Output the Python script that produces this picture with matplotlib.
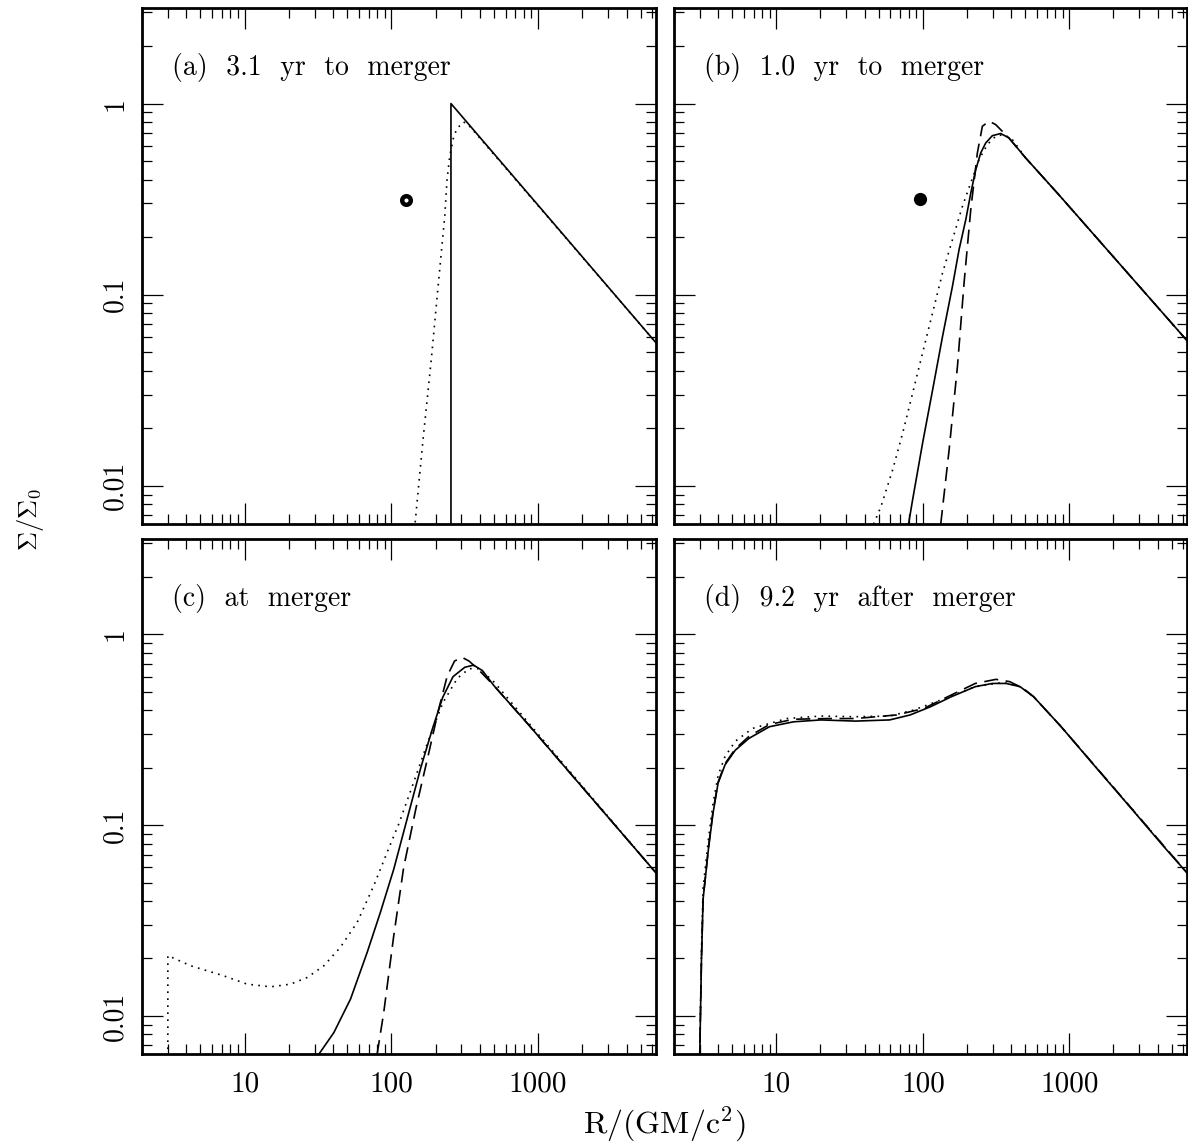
import matplotlib
matplotlib.use('Agg')
import matplotlib.pyplot as plt
from matplotlib.ticker import FixedLocator, FixedFormatter, LogLocator, NullFormatter

plt.rcParams['font.family'] = 'cmr10'
plt.rcParams['mathtext.fontset'] = 'cm'
plt.rcParams['axes.formatter.use_mathtext'] = True

# surface density profiles: R in GM/c^2, Sigma in units of Sigma_0
# solid / dotted / dashed = the three runs, one panel per epoch

# (a) 3.1 yr to merger
R_a_solid = [254.7, 254.7, 6353]
S_a_solid = [0.005, 1.0, 0.056]
R_a_dot = [141.0, 144.9, 164.4, 187.5, 208.0, 231.2, 239.3, 249.5, 265.5, 279.9, 310.5, 344.4, 6353]
S_a_dot = [0.005, 0.0063, 0.0175, 0.0466, 0.110, 0.258, 0.397, 0.526, 0.668, 0.740, 0.802, 0.755, 0.056]
R_a_bh = [126.5]
S_a_bh = [0.312]

# (b) 1.0 yr to merger
R_b_solid = [79.8, 85.1, 99.5, 116.4, 136.1, 159.2, 176.6, 196.3, 212.3, 229.6, 248.3, 268.5, 297.9,
             339.6, 386.4, 502.3, 845.3, 6353]
S_b_solid = [0.0063, 0.00845, 0.0167, 0.0316, 0.0603, 0.1107, 0.172, 0.247, 0.340, 0.451, 0.552, 0.622,
             0.679, 0.697, 0.661, 0.520, 0.334, 0.0575]
R_b_dot = [46.1, 51.8, 62.2, 72.8, 85.1, 99.5, 116.4, 136.1, 159.2, 186.2, 212.3, 241.5, 275.4, 314.1,
           357.3, 407.4, 502.3, 845.3, 6353]
S_b_dot = [0.0063, 0.0078, 0.01213, 0.01888, 0.0305, 0.0495, 0.0802, 0.1297, 0.194, 0.290, 0.385, 0.509,
           0.610, 0.675, 0.689, 0.649, 0.520, 0.334, 0.0575]
R_b_dash = [132.4, 151.0, 172.2, 191.0, 212.3, 235.5, 254.7, 282.5, 314.1, 348.3, 386.4, 502.3, 845.3, 6353]
S_b_dash = [0.0063, 0.0154, 0.0422, 0.115, 0.279, 0.552, 0.760, 0.809, 0.776, 0.716, 0.661, 0.520, 0.334,
            0.0575]
R_b_bh = [95.5]
S_b_bh = [0.317]

# (c) at merger
R_c_solid = [32.1, 40.6, 52.7, 68.4, 84.1, 103.8, 127.9, 158.5, 190.5, 223.9, 263.0, 316.2, 363.1, 416.9,
             501.2, 851.1, 6353]
S_c_solid = [0.0063, 0.00818, 0.01225, 0.0215, 0.0348, 0.0587, 0.1074, 0.1995, 0.320, 0.468, 0.600, 0.672,
             0.690, 0.646, 0.537, 0.339, 0.0562]
R_c_dot = [3.0, 3.0, 4.30, 7.23, 10.42, 15.03, 20.56, 26.73, 34.67, 44.98, 58.48, 75.86, 93.5, 112.2, 141.3,
           177.8, 223.9, 281.8, 338.8, 398.1, 501.2, 851.1, 6353]
S_c_dot = [0.001, 0.0207, 0.0183, 0.0162, 0.01466, 0.0142, 0.01466, 0.0159, 0.0183, 0.0229, 0.0309, 0.0481,
           0.0719, 0.1012, 0.166, 0.275, 0.437, 0.589, 0.661, 0.661, 0.562, 0.347, 0.0562]
R_c_dash = [80.0, 88.7, 103.8, 121.3, 147.9, 177.8, 208.9, 239.9, 269.2, 302.0, 338.8, 398.1, 501.2, 851.1,
            6353]
S_c_dash = [0.0063, 0.0104, 0.0263, 0.060, 0.125, 0.230, 0.398, 0.603, 0.724, 0.759, 0.724, 0.646, 0.537,
            0.339, 0.0562]

# (d) 9.2 yr after merger
R_d_solid = [2.99, 3.08, 3.16, 3.44, 3.69, 4.00, 4.46, 5.24, 6.50, 8.97, 13.09, 20.1, 34.6, 59.3, 81.8,
             113.2, 156.3, 228.0, 298.5, 370.7, 460.3, 570.2, 879.0, 1507, 2582, 4426, 6353]
S_d_solid = [0.0056, 0.0198, 0.0409, 0.0755, 0.115, 0.166, 0.207, 0.247, 0.285, 0.328, 0.348, 0.356, 0.351,
             0.356, 0.378, 0.418, 0.471, 0.532, 0.553, 0.553, 0.532, 0.471, 0.328, 0.202, 0.125, 0.0769, 0.0562]
R_d_dot = [2.99, 3.08, 3.16, 3.44, 3.69, 4.00, 4.46, 5.24, 6.85, 11.75, 20.1, 34.6, 59.3, 86.5, 133.0,
           228.0, 351.6, 460.3, 570.2, 879.0, 6353]
S_d_dot = [0.0056, 0.0224, 0.0468, 0.0851, 0.129, 0.182, 0.229, 0.275, 0.321, 0.362, 0.373, 0.370, 0.373,
           0.401, 0.453, 0.532, 0.560, 0.532, 0.471, 0.328, 0.0562]
R_d_dash = [2.99, 3.08, 3.16, 3.44, 3.69, 4.00, 4.46, 5.24, 6.50, 8.97, 13.09, 22.4, 34.6, 66.1, 101.6,
            156.3, 228.0, 315.5, 391.7, 485.3, 570.2, 879.0, 6353]
S_d_dash = [0.0056, 0.0200, 0.0412, 0.0767, 0.1175, 0.168, 0.210, 0.251, 0.292, 0.337, 0.359, 0.362, 0.362,
            0.378, 0.409, 0.481, 0.553, 0.581, 0.565, 0.521, 0.471, 0.328, 0.0562]

panel_titles = ['(a)  3.1  yr  to  merger', '(b)  1.0  yr  to  merger', '(c)  at  merger',
                '(d)  9.2  yr  after  merger']
x_ticks = [10, 100, 1000]
x_ticklabels = ['10', '100', '1000']
y_ticks = [0.01, 0.1, 1]
y_ticklabels = ['0.01', '0.1', '1']

R_MIN, R_MAX = 2.0, 6353
S_MIN, S_MAX = 10 ** -2.2, 10 ** 0.5

DOT = (0, (1, 3.2))
DASH = (0, (8.5, 4.5))
LW = 1.2


def style_axes(ax, title, show_x, show_y):
    ax.set_xscale('log')
    ax.set_yscale('log')
    ax.set_xlim(R_MIN, R_MAX)
    ax.set_ylim(S_MIN, S_MAX)
    ax.xaxis.set_major_locator(FixedLocator(x_ticks))
    ax.xaxis.set_major_formatter(FixedFormatter(x_ticklabels if show_x else [''] * 3))
    ax.xaxis.set_minor_locator(LogLocator(base=10, subs=range(2, 10), numticks=20))
    ax.xaxis.set_minor_formatter(NullFormatter())
    ax.yaxis.set_major_locator(FixedLocator(y_ticks))
    ax.yaxis.set_major_formatter(FixedFormatter(y_ticklabels if show_y else [''] * 3))
    ax.yaxis.set_minor_locator(LogLocator(base=10, subs=range(2, 10), numticks=20))
    ax.yaxis.set_minor_formatter(NullFormatter())
    ax.tick_params(which='both', direction='in', top=True, right=True, width=0.9, colors='k')
    ax.tick_params(which='major', length=15)
    ax.tick_params(which='minor', length=7.5)
    ax.tick_params(axis='x', which='major', labelsize=21, pad=12)
    ax.tick_params(axis='y', which='major', labelsize=20, pad=10, labelrotation=90)
    for lab in ax.get_yticklabels():
        lab.set_va('center')
    for sp in ax.spines.values():
        sp.set_linewidth(2.0)
    ax.text(0.058, 0.870, title, transform=ax.transAxes, fontsize=20, ha='left', va='baseline')


fig = plt.figure(figsize=(11.88, 11.46), dpi=100)
W, H = 1188.0, 1146.0
ax_a = fig.add_axes([142 / W, 1 - 524 / H, 514 / W, 516 / H])
ax_b = fig.add_axes([674 / W, 1 - 524 / H, 513 / W, 516 / H])
ax_c = fig.add_axes([142 / W, 1 - 1054 / H, 514 / W, 515 / H])
ax_d = fig.add_axes([674 / W, 1 - 1054 / H, 513 / W, 515 / H])

# (a)
ax_a.plot(R_a_solid, S_a_solid, color='k', lw=LW)
ax_a.plot(R_a_dot, S_a_dot, color='k', lw=LW, ls=DOT)
ax_a.plot(R_a_bh, S_a_bh, 'o', ms=6.2, mfc='white', mec='k', mew=3.2)

# (b)
ax_b.plot(R_b_solid, S_b_solid, color='k', lw=LW)
ax_b.plot(R_b_dot, S_b_dot, color='k', lw=LW, ls=DOT)
ax_b.plot(R_b_dash, S_b_dash, color='k', lw=LW, ls=DASH)
ax_b.plot(R_b_bh, S_b_bh, 'o', ms=9.5, color='k', mew=0)

# (c)
ax_c.plot(R_c_solid, S_c_solid, color='k', lw=LW)
ax_c.plot(R_c_dot, S_c_dot, color='k', lw=LW, ls=DOT)
ax_c.plot(R_c_dash, S_c_dash, color='k', lw=LW, ls=DASH)

# (d)
ax_d.plot(R_d_solid, S_d_solid, color='k', lw=LW)
ax_d.plot(R_d_dot, S_d_dot, color='k', lw=LW, ls=DOT)
ax_d.plot(R_d_dash, S_d_dash, color='k', lw=LW, ls=DASH)

style_axes(ax_a, panel_titles[0], False, True)
style_axes(ax_b, panel_titles[1], False, False)
style_axes(ax_c, panel_titles[2], True, True)
style_axes(ax_d, panel_titles[3], True, False)

fig.text(30 / W, 1 - 520 / H, r'$\Sigma/\Sigma_0$', rotation=90, ha='center', va='center', fontsize=19)
fig.text(664 / W, 1 - 1124 / H, r'$\mathrm{R/(GM/c^2)}$', ha='center', va='center', fontsize=23)

fig.savefig('out.png', dpi=100)
